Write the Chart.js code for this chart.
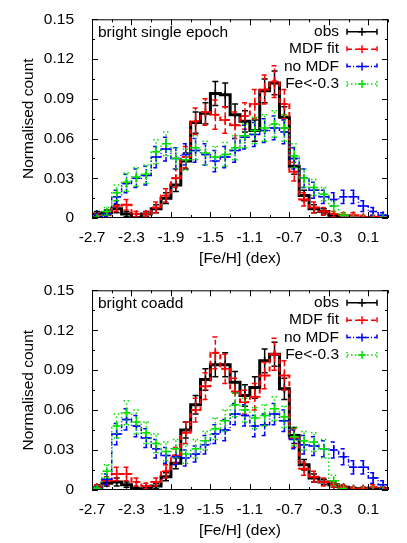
<!DOCTYPE html>
<html>
<head>
<meta charset="utf-8">
<script src="https://cdn.jsdelivr.net/npm/chart.js@4.4.1/dist/chart.umd.min.js"></script>
<style>
  html, body { margin: 0; padding: 0; background: #fff; }
  canvas { display: block; }
</style>
</head>
<body>
<canvas id="topChart" width="407" height="271"></canvas>
<canvas id="botChart" width="407" height="272"></canvas>
<script>
// ── data ─────────────────────────────────────────────────────────────────
const feh = [-2.65, -2.55, -2.45, -2.35, -2.25, -2.15, -2.05, -1.95, -1.85, -1.75,
             -1.65, -1.55, -1.45, -1.35, -1.25, -1.15, -1.05, -0.95, -0.85, -0.75,
             -0.65, -0.55, -0.45, -0.35, -0.25, -0.15, -0.05, 0.05, 0.15, 0.25];
const binWidth = 0.1;
const seriesNames = ['obs', 'MDF fit', 'no MDF', 'Fe<-0.3'];
const panelLabels = ['bright single epoch', 'bright coadd'];

// bright single epoch
const topObs = [0.003,0.004,0.007,0.003,0.000,0.003,0.007,0.015,0.025,0.043,0.072,0.079,0.094,0.093,0.078,0.073,0.066,0.096,0.102,0.076,0.039,0.017,0.007,0.005,0.002,0.000,0.000,0.000,0.000,0.000];
const topObsErr = [0.002,0.002,0.003,0.002,0.001,0.002,0.003,0.004,0.005,0.006,0.008,0.008,0.009,0.009,0.008,0.008,0.008,0.009,0.009,0.008,0.006,0.004,0.003,0.002,0.001,0,0,0,0,0];
const topMdf = [0.001,0.002,0.009,0.010,0.003,0.003,0.008,0.017,0.030,0.046,0.073,0.080,0.078,0.074,0.070,0.077,0.086,0.097,0.103,0.086,0.035,0.014,0.008,0.005,0.003,0.002,0.002,0.001,0.001,0.000];
const topMdfErr = [0.002,0.002,0.004,0.004,0.002,0.002,0.004,0.005,0.007,0.008,0.010,0.010,0.011,0.010,0.010,0.010,0.011,0.011,0.012,0.011,0.007,0.005,0.004,0.003,0.002,0.002,0.002,0.001,0.001,0];
const topNo = [0.001,0.003,0.016,0.026,0.030,0.032,0.046,0.052,0.045,0.048,0.051,0.048,0.043,0.046,0.051,0.061,0.063,0.066,0.068,0.065,0.045,0.030,0.021,0.016,0.014,0.016,0.016,0.009,0.005,0.002];
const topNoErr = [0.001,0.002,0.005,0.007,0.007,0.007,0.008,0.009,0.008,0.008,0.009,0.008,0.008,0.008,0.009,0.009,0.009,0.009,0.009,0.009,0.008,0.007,0.006,0.005,0.005,0.005,0.005,0.004,0.003,0.002];
const topFe = [0.000,0.005,0.019,0.027,0.031,0.033,0.050,0.056,0.045,0.044,0.053,0.049,0.046,0.048,0.053,0.062,0.066,0.068,0.071,0.068,0.047,0.030,0.023,0.018,0.009,0.002,0.000,0.000,0.000,0.000];
const topFeErr = [0.001,0.003,0.006,0.007,0.007,0.007,0.009,0.009,0.008,0.008,0.009,0.009,0.008,0.009,0.009,0.009,0.010,0.010,0.010,0.010,0.009,0.007,0.006,0.005,0.004,0.002,0,0,0,0];

// bright coadd
const botObs = [0.002,0.005,0.006,0.004,0.001,0.001,0.003,0.010,0.020,0.045,0.064,0.083,0.094,0.094,0.081,0.071,0.077,0.097,0.102,0.076,0.041,0.019,0.009,0.006,0.004,0.002,0.001,0.001,0.001,0.001];
const botObsErr = [0.002,0.002,0.003,0.002,0.001,0.001,0.002,0.003,0.004,0.006,0.007,0.008,0.009,0.009,0.008,0.008,0.008,0.009,0.009,0.008,0.006,0.004,0.003,0.002,0.002,0.001,0.001,0.001,0.001,0.001];
const botMdf = [0.002,0.007,0.012,0.012,0.006,0.003,0.006,0.014,0.026,0.043,0.060,0.078,0.103,0.091,0.074,0.066,0.070,0.086,0.102,0.086,0.039,0.016,0.010,0.006,0.004,0.002,0.001,0.001,0.002,0.001];
const botMdfErr = [0.002,0.003,0.005,0.005,0.003,0.002,0.003,0.005,0.006,0.008,0.009,0.010,0.012,0.011,0.010,0.009,0.010,0.010,0.012,0.011,0.007,0.005,0.004,0.003,0.002,0.002,0.001,0.001,0.002,0.001];
const botNo = [0.001,0.008,0.042,0.053,0.048,0.039,0.031,0.026,0.025,0.024,0.027,0.034,0.042,0.045,0.057,0.056,0.048,0.049,0.057,0.052,0.038,0.034,0.033,0.031,0.030,0.025,0.017,0.017,0.009,0.004];
const botNoErr = [0.001,0.004,0.008,0.008,0.008,0.007,0.007,0.006,0.006,0.006,0.006,0.007,0.007,0.008,0.008,0.008,0.008,0.008,0.008,0.008,0.007,0.007,0.007,0.006,0.006,0.006,0.005,0.005,0.004,0.003];
const botFe = [0.001,0.014,0.048,0.058,0.051,0.043,0.035,0.029,0.031,0.027,0.031,0.037,0.046,0.052,0.064,0.060,0.054,0.056,0.061,0.055,0.040,0.037,0.036,0.031,0.007,0.001,0.000,0.000,0.000,0.000];
const botFeErr = [0.001,0.005,0.009,0.009,0.009,0.008,0.007,0.007,0.007,0.007,0.007,0.007,0.008,0.008,0.009,0.009,0.008,0.008,0.009,0.008,0.007,0.007,0.007,0.007,0.004,0.001,0,0,0,0];

// ── look ─────────────────────────────────────────────────────────────────
const FONT = "'Liberation Sans', Arial, Helvetica, sans-serif";
Chart.defaults.font.family = FONT;
Chart.defaults.font.size   = 15.5;
Chart.defaults.color       = '#000';

const STYLES = [
  { color: '#000000', step: 3,   bar: 1.5, dash: [] },
  { color: '#ff0000', step: 2,   bar: 1.5, dash: [5, 3] },
  { color: '#0000ff', step: 1.5, bar: 1.5, dash: [4, 2, 1, 2] },
  { color: '#00e000', step: 1.5, bar: 1.5, dash: [1.5, 2.5] },
];

// vertical error bars with small caps, drawn right after each marker dataset
const errorBars = {
  id: 'errorBars',
  afterDatasetDraw(chart, args) {
    const ds = chart.data.datasets[args.index];
    if (!ds.errors) return;
    const { ctx, chartArea: a } = chart;
    const { x, y } = chart.scales;
    ctx.save();
    ctx.beginPath();
    ctx.rect(a.left, a.top, a.right - a.left, a.bottom - a.top);
    ctx.clip();
    ctx.strokeStyle = ds.borderColor;
    ctx.lineWidth = ds.barWidth;
    ctx.setLineDash(ds.barDash);
    ctx.beginPath();
    ds.data.forEach((p, i) => {
      const e  = ds.errors[i];
      const px = x.getPixelForValue(p.x);
      const lo = y.getPixelForValue(p.y - e);
      const hi = y.getPixelForValue(p.y + e);
      ctx.moveTo(px, lo);     ctx.lineTo(px, hi);
      ctx.moveTo(px - 3, lo); ctx.lineTo(px + 3, lo);
      ctx.moveTo(px - 3, hi); ctx.lineTo(px + 3, hi);
    });
    ctx.stroke();
    ctx.restore();
  }
};

// frame, inward ticks, panel label, legend
const decor = {
  id: 'decor',
  afterDraw(chart, args, opts) {
    const { ctx, chartArea: a } = chart;
    const { x, y } = chart.scales;
    ctx.save();
    ctx.strokeStyle = '#000';
    ctx.lineWidth = 1;
    ctx.setLineDash([]);
    ctx.strokeRect(a.left + 0.5, a.top + 0.5, a.right - a.left - 1, a.bottom - a.top - 1);
    ctx.beginPath();
    x.ticks.forEach((t, i) => {
      const px = Math.round(x.getPixelForValue(t.value)) + 0.5;
      const len = i % 2 ? 3 : 6;
      ctx.moveTo(px, a.bottom); ctx.lineTo(px, a.bottom - len);
      ctx.moveTo(px, a.top);    ctx.lineTo(px, a.top + len);
    });
    y.ticks.forEach((t, i) => {
      const py = Math.round(y.getPixelForValue(t.value)) + 0.5;
      const len = i % 2 ? 3 : 6;
      ctx.moveTo(a.left, py);  ctx.lineTo(a.left + len, py);
      ctx.moveTo(a.right, py); ctx.lineTo(a.right - len, py);
    });
    ctx.stroke();

    ctx.fillStyle = '#000';
    ctx.font = `15.5px ${FONT}`;
    ctx.textBaseline = 'middle';
    ctx.textAlign = 'left';
    ctx.fillText(opts.label, a.left + 6, a.top + 13);

    seriesNames.forEach((name, i) => {
      const st = STYLES[i];
      const yy = a.top + 12.5 + 17.4 * i;
      ctx.textAlign = 'right';
      ctx.fillText(name, a.right - 49, yy);
      const x0 = a.right - 41, x1 = a.right - 11, xm = (x0 + x1) / 2;
      ctx.strokeStyle = st.color;
      ctx.lineWidth = st.bar;
      ctx.setLineDash(st.dash);
      ctx.beginPath();
      ctx.moveTo(x0, yy); ctx.lineTo(x1, yy);
      ctx.moveTo(x0, yy - 3); ctx.lineTo(x0, yy + 3);
      ctx.moveTo(x1, yy - 3); ctx.lineTo(x1, yy + 3);
      ctx.stroke();
      ctx.setLineDash([]);
      ctx.beginPath();
      ctx.moveTo(xm - 4, yy); ctx.lineTo(xm + 4, yy);
      ctx.moveTo(xm, yy - 4); ctx.lineTo(xm, yy + 4);
      ctx.stroke();
    });
    ctx.restore();
  }
};

function stepPoints(vals) {
  const pts = vals.map((v, i) => ({ x: feh[i] - binWidth / 2, y: v }));
  pts.push({ x: feh[feh.length - 1] + binWidth / 2, y: vals[vals.length - 1] });
  return pts;
}

function buildDatasets(series) {
  const out = [];
  series.forEach(([vals, errs], i) => {
    const st = STYLES[i];
    out.push({
      type: 'line', data: stepPoints(vals), stepped: true,
      borderColor: st.color, borderWidth: st.step, borderDash: st.dash,
      pointRadius: 0, fill: false, order: 8 - 2 * i,
    });
    out.push({
      type: 'scatter', data: vals.map((v, k) => ({ x: feh[k], y: v })),
      errors: errs, barWidth: st.bar, barDash: st.dash,
      borderColor: st.color, backgroundColor: st.color,
      pointStyle: 'cross', pointRadius: 4, borderWidth: 1.5,
      order: 7 - 2 * i,
    });
  });
  return out;
}

function fmtY(v) { return v === 0 ? '0' : String(+v.toFixed(2)); }

function renderPanel(canvasId, label, series, padTop) {
  return new Chart(document.getElementById(canvasId), {
    data: { datasets: buildDatasets(series) },
    options: {
      responsive: false, animation: false, devicePixelRatio: 1,
      layout: { padding: { left: 0, right: 19, top: padTop, bottom: 0 } },
      plugins: {
        legend: { display: false }, tooltip: { enabled: false },
        decor: { label },
      },
      scales: {
        x: {
          type: 'linear', min: -2.7, max: 0.3,
          grid: { display: false }, border: { display: false },
          ticks: { stepSize: 0.2, autoSkip: false, maxRotation: 0, padding: 2,
                   callback: (v, i) => i % 2 === 0 ? v.toFixed(1) : '' },
          title: { display: true, text: '[Fe/H] (dex)', padding: { top: 0, bottom: 3 } },
          afterFit: s => { s.height = 53; },
        },
        y: {
          type: 'linear', min: 0, max: 0.15,
          grid: { display: false }, border: { display: false },
          ticks: { stepSize: 0.015, autoSkip: false, padding: 10,
                   callback: (v, i) => i % 2 === 0 ? fmtY(v) : '' },
          title: { display: true, text: 'Normalised count', padding: { top: 19, bottom: 0 } },
          afterFit: s => { s.width = 92; },
        },
      },
    },
    plugins: [errorBars, decor],
  });
}

renderPanel('topChart', panelLabels[0],
  [[topObs, topObsErr], [topMdf, topMdfErr], [topNo, topNoErr], [topFe, topFeErr]], 12);
renderPanel('botChart', panelLabels[1],
  [[botObs, botObsErr], [botMdf, botMdfErr], [botNo, botNoErr], [botFe, botFeErr]], 13);
</script>
</body>
</html>
